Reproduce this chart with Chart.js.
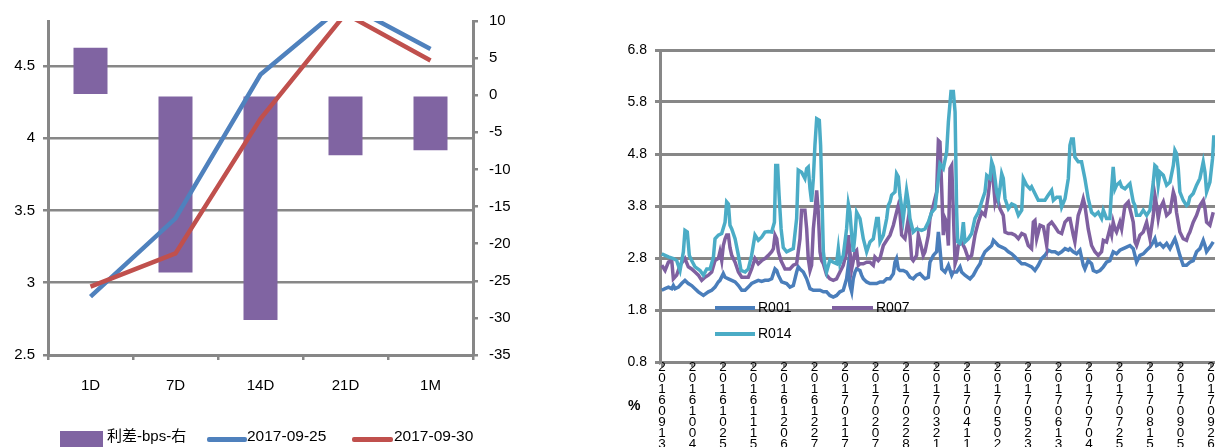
<!DOCTYPE html>
<html>
<head>
<meta charset="utf-8">
<script src="https://cdn.jsdelivr.net/npm/chart.js@4.4.1/dist/chart.umd.min.js"></script>
<style>
  body { margin: 0; width: 1215px; height: 447px; overflow: hidden; background: #fff; position: relative;
         font-family: "Liberation Sans", "Noto Sans CJK SC", sans-serif; color: #000; }
  canvas { position: absolute; top: 0; }
  #curveChart { left: 0; }
  #repoChart { left: 600px; }
  .sw { position: absolute; }
  .lg { position: absolute; white-space: nowrap; }
</style>
</head>
<body>
<canvas id="curveChart" width="600" height="447"></canvas>
<canvas id="repoChart" width="615" height="447"></canvas>

<!-- left legend -->
<div class="sw" style="left:60px;top:431px;width:43px;height:20px;background:#8064a2"></div>
<div class="lg" style="left:107px;top:427px;font-size:15px;line-height:18px">利差-bps-右</div>
<div class="sw" style="left:207px;top:437px;width:40px;height:5px;background:#4f81bd;border-radius:2px"></div>
<div class="lg" style="left:247px;top:427px;font-size:15.5px;line-height:18px">2017-09-25</div>
<div class="sw" style="left:352px;top:437px;width:41px;height:5px;background:#c0504d;border-radius:2px"></div>
<div class="lg" style="left:394px;top:427px;font-size:15.5px;line-height:18px">2017-09-30</div>

<!-- right legend -->
<div class="sw" style="left:715px;top:306px;width:40px;height:4px;background:#4a7ebb"></div>
<div class="lg" style="left:758px;top:299px;font-size:14px;line-height:16px">R001</div>
<div class="sw" style="left:832px;top:306px;width:41px;height:4px;background:#7f60a0"></div>
<div class="lg" style="left:876px;top:299px;font-size:14px;line-height:16px">R007</div>
<div class="sw" style="left:715px;top:332px;width:40px;height:4px;background:#4bacc6"></div>
<div class="lg" style="left:758px;top:325px;font-size:14px;line-height:16px">R014</div>
<div class="lg" style="left:628px;top:397px;font-size:14px;line-height:16px;font-weight:bold">%</div>

<script>
// ---- left chart: curve on two dates + spread (bps, right axis)
const tenors = ["1D", "7D", "14D", "21D", "1M"];
const rate0925 = [2.904, 3.445, 4.44, 4.93, 4.617];
const rate0930 = [2.973, 3.203, 4.134, 4.86, 4.537];
const spreadBps = [6.4, -23.9, -30.3, -8.1, -7.4];
const curveTicks = [2.5, 3, 3.5, 4, 4.5];

// ---- right chart: repo rates, x = days since 2016-09-13
const dateTicks = ["20160913", "20161004", "20161025", "20161115", "20161206", "20161227",
  "20170117", "20170207", "20170228", "20170321", "20170411", "20170502", "20170523",
  "20170613", "20170704", "20170725", "20170815", "20170905", "20170926"];
const daysPerTick = 21;
const rateTicks = [0.8, 1.8, 2.8, 3.8, 4.8, 5.8, 6.8];

const r001Day = [-0.2,2.1,4.4,6.7,7.8,9.0,11.3,13.5,15.8,18.1,20.4,22.7,25.0,28.5,31.9,34.2,36.5,38.8,39.9,42.2,43.4,45.7,48.0,50.3,52.6,54.9,57.2,59.4,61.7,64.0,66.3,68.6,70.9,73.2,75.5,77.8,79.0,80.1,82.4,85.8,
  88.1,90.4,92.7,93.8,95.0,97.3,99.6,101.9,104.2,106.5,108.8,111.1,113.3,115.6,117.9,120.2,122.5,124.8,127.1,128.3,129.4,130.6,131.7,132.9,134.0,136.3,137.4,138.6,140.9,143.2,145.5,147.8,150.1,152.4,154.7,157.0,159.3,160.4,161.5,162.7,163.8,166.1,168.4,170.7,173.0,175.3,177.6,179.9,
  181.1,183.4,184.5,186.8,189.1,190.3,191.4,192.6,194.9,197.2,199.5,200.6,202.9,205.2,206.3,208.6,212.1,214.4,216.7,219.0,220.1,222.4,224.7,227.0,228.2,229.3,231.6,233.9,236.2,238.5,240.8,243.1,245.4,247.7,249.9,252.2,254.5,256.8,259.1,261.4,263.7,266.0,268.3,270.6,272.9,275.2,277.5,279.8,
  280.9,283.2,285.5,287.8,290.1,291.2,293.5,295.8,297.0,299.3,301.6,303.9,306.1,308.4,310.7,313.0,315.3,317.6,319.9,322.2,324.5,326.8,329.1,331.4,333.7,336.0,338.3,339.4,340.6,342.9,345.2,347.5,349.8,352.1,353.2,354.3,356.6,358.9,361.2,363.5,365.8,368.1,370.4,372.7,373.9,375.0,377.3,379.6];
const r001 = [2.18,2.21,2.24,2.21,2.27,2.21,2.24,2.31,2.37,2.31,2.27,2.21,2.15,2.08,2.15,2.18,2.24,2.34,2.37,2.50,2.43,2.40,2.37,2.34,2.27,2.18,2.18,2.24,2.31,2.34,2.37,2.35,2.37,2.37,2.40,2.59,2.56,2.47,2.34,2.31,
  2.24,2.27,2.53,2.63,2.59,2.53,2.40,2.21,2.18,2.18,2.18,2.15,2.15,2.08,2.05,2.08,2.15,2.18,2.40,2.66,2.27,2.15,2.40,2.53,2.59,2.56,2.47,2.40,2.34,2.31,2.31,2.31,2.34,2.34,2.40,2.40,2.50,2.72,2.79,2.59,2.56,2.56,2.53,2.43,2.40,2.47,2.50,2.43,
  2.40,2.43,2.72,2.85,2.92,3.30,2.98,2.59,2.53,2.66,2.47,2.53,2.53,2.63,2.53,2.47,2.40,2.47,2.59,2.69,2.79,2.92,2.98,3.04,3.14,3.11,3.04,3.01,2.98,2.92,2.88,2.82,2.75,2.69,2.69,2.66,2.63,2.56,2.66,2.79,2.85,2.95,2.92,2.92,2.88,2.92,2.98,2.95,
  2.98,2.92,2.88,2.95,2.66,2.59,2.75,2.69,2.56,2.53,2.56,2.63,2.72,2.75,2.92,2.88,2.95,2.98,3.01,3.04,2.98,2.72,2.85,2.88,2.95,3.01,3.11,3.17,3.04,3.08,3.01,3.08,2.98,3.11,3.17,3.08,2.85,2.66,2.66,2.72,2.75,2.92,2.98,3.14,3.04,2.92,3.01,3.11];

const r007Day = [-0.2,2.1,4.4,6.7,7.8,10.1,12.4,15.8,18.1,20.4,22.7,25.0,27.3,29.6,31.9,34.2,36.5,38.8,39.9,41.1,42.2,43.4,44.5,45.7,46.8,48.0,50.3,52.6,54.9,57.2,59.4,61.7,64.0,66.3,68.6,70.9,73.2,75.5,76.7,77.8,79.0,80.1,81.9,84.7,
  88.1,90.4,92.7,95.0,96.1,98.4,99.6,100.7,101.9,103.0,104.2,105.3,106.5,107.6,108.8,109.9,111.1,113.4,115.6,117.9,120.2,122.5,124.8,127.1,128.3,129.4,130.6,131.7,132.9,134.0,135.2,136.3,138.6,140.9,143.2,145.5,146.6,148.9,150.1,152.4,154.7,157.0,159.3,161.5,162.7,163.8,165.0,167.3,169.6,170.7,171.9,173.0,175.3,176.5,178.8,179.9,
  181.1,183.4,184.5,186.8,189.1,190.3,191.4,192.6,193.7,194.9,196.0,197.2,198.3,199.5,200.6,201.8,202.9,204.0,206.3,208.6,210.9,213.2,215.5,217.8,220.1,222.4,223.6,224.7,225.9,227.0,228.2,229.3,230.4,231.6,232.7,235.0,236.2,238.5,240.8,243.1,245.4,247.7,249.9,252.2,254.5,255.7,256.8,258.0,260.3,262.6,263.7,264.9,266.0,268.3,270.6,272.9,275.2,277.5,279.8,
  280.9,283.2,284.3,286.6,288.9,290.1,291.2,293.5,295.8,298.1,300.4,302.7,303.9,306.1,308.4,309.6,310.7,311.9,313.0,315.3,316.5,318.8,321.1,322.2,324.5,325.7,326.8,329.1,331.4,333.7,336.0,338.3,339.4,340.6,341.7,342.9,345.2,347.5,349.8,352.1,353.2,354.3,356.6,358.9,361.2,362.4,363.5,365.8,368.1,370.4,372.7,373.9,375.0,377.3,379.6];
const r007 = [2.66,2.56,2.72,2.75,2.40,2.47,2.66,2.79,2.63,2.59,2.53,2.47,2.37,2.43,2.47,2.53,2.75,2.79,2.92,2.75,3.04,3.17,3.24,3.24,3.00,2.85,2.72,2.53,2.43,2.43,2.43,2.59,2.79,2.69,2.75,2.79,2.85,2.92,2.98,3.24,3.17,2.92,2.75,2.59,
  2.59,2.66,2.69,3.17,3.72,3.72,3.36,2.79,2.56,2.66,3.36,3.68,4.10,3.68,2.92,2.75,2.69,2.47,2.40,2.37,2.40,2.53,2.66,2.92,3.24,2.92,2.59,2.75,2.92,2.95,2.66,2.69,2.69,2.72,2.72,2.66,2.82,2.75,2.79,3.04,3.14,3.24,3.43,3.68,3.81,3.68,3.24,3.17,3.56,3.24,2.79,2.75,2.85,3.24,2.98,2.85,
  2.92,3.24,3.56,3.81,4.07,5.06,5.03,4.13,3.24,3.56,3.49,3.04,4.52,4.58,3.68,2.69,2.79,3.04,3.11,2.98,2.79,2.85,3.24,3.49,3.68,3.62,3.81,4.01,4.33,4.39,4.26,3.88,4.01,3.88,3.75,3.62,3.30,3.27,3.27,3.24,3.17,3.27,3.24,3.04,2.98,3.49,3.52,3.17,3.43,3.40,3.24,3.04,3.43,3.49,3.40,3.30,3.27,3.49,3.56,
  3.56,3.24,3.11,3.62,3.81,3.94,3.81,3.36,3.04,2.92,2.85,2.92,3.14,3.11,3.36,3.24,3.49,3.36,3.30,3.49,3.36,3.81,3.88,3.75,3.49,3.11,3.04,3.24,3.30,3.49,3.17,3.62,4.01,3.81,3.56,3.75,3.88,3.62,3.68,4.07,3.97,3.68,3.30,3.17,3.14,3.24,3.30,3.49,3.62,3.81,3.91,3.75,3.49,3.43,3.68];

const r014Day = [-0.2,4.4,7.8,10.1,12.4,14.7,15.8,17.4,18.8,20.4,22.7,26.2,28.5,30.8,33.1,35.4,36.5,38.8,41.1,43.4,44.5,45.7,46.8,48.0,50.3,52.6,54.4,57.2,59.4,61.7,64.0,66.3,68.6,70.9,73.2,75.5,77.4,78.3,79.6,80.6,82.0,83.5,85.8,
  88.1,90.4,92.7,93.8,96.1,98.4,99.6,100.7,101.9,103.0,104.2,105.3,106.5,108.3,109.2,110.4,111.1,112.2,113.3,115.6,117.9,120.2,121.4,122.5,124.8,127.1,128.3,129.4,130.6,131.7,132.9,134.0,136.3,138.6,140.9,143.2,145.5,147.8,148.9,150.1,152.4,154.7,155.8,157.0,158.1,160.4,161.5,162.7,163.8,166.1,168.4,169.6,170.7,173.0,175.3,178.8,
  181.1,183.4,185.7,188.0,190.3,191.4,193.7,196.0,197.2,199.0,200.6,201.8,202.9,203.6,205.2,206.3,207.5,208.6,210.9,213.2,215.5,217.8,220.1,222.4,223.6,225.9,227.0,228.2,229.3,230.4,231.6,232.7,233.9,235.0,236.2,238.5,240.8,243.1,245.4,247.7,248.8,251.1,253.4,254.5,256.8,259.1,261.4,263.7,266.0,268.3,269.5,271.8,274.1,275.2,277.5,279.8,
  280.9,282.0,283.2,284.3,286.6,288.9,291.2,293.5,295.8,298.1,300.4,302.7,303.9,306.1,308.4,309.6,310.7,311.9,313.0,315.3,316.5,318.8,321.1,322.2,324.5,325.7,326.8,329.1,331.4,333.7,336.0,338.3,339.4,340.6,341.7,342.9,345.2,347.5,349.8,352.1,353.2,354.3,355.5,356.6,358.9,361.2,362.4,363.5,365.8,368.1,370.4,372.7,373.9,375.0,377.3,379.1,380.0];
const r014 = [2.88,2.82,2.79,2.75,2.56,2.92,3.33,3.30,2.85,2.75,2.63,2.56,2.47,2.59,2.59,2.82,3.17,3.24,3.27,3.49,3.88,3.84,3.43,3.36,3.17,2.85,2.56,2.53,2.59,2.85,3.24,3.14,3.20,3.30,3.31,3.30,3.49,4.58,4.58,4.01,3.36,3.00,2.92,
  2.95,2.98,3.56,4.49,4.45,4.33,4.52,4.55,4.13,3.88,4.33,4.97,5.48,5.45,4.97,3.68,2.92,2.66,2.53,2.76,2.72,2.69,2.98,2.69,2.85,3.36,3.84,3.68,3.24,2.92,3.24,3.68,3.56,3.17,2.92,3.11,3.17,3.56,3.56,3.11,3.24,3.56,3.81,3.88,4.01,4.07,4.42,4.36,4.01,3.56,4.10,3.88,3.56,3.30,3.36,3.33,
  3.36,3.49,3.68,3.75,4.33,4.61,4.52,4.84,5.42,6.00,6.00,5.61,3.68,3.11,3.08,3.17,3.49,3.11,3.17,3.27,3.56,3.68,3.88,4.07,4.39,4.33,4.65,4.55,4.33,4.07,3.94,4.13,4.42,4.33,3.94,3.75,3.84,3.81,3.62,3.72,4.33,4.20,4.13,4.17,4.04,3.91,3.91,3.91,4.01,4.10,3.91,3.97,3.97,3.78,3.94,4.33,
  4.97,5.09,5.09,4.74,4.65,4.65,4.33,3.94,3.68,3.62,3.68,3.56,3.72,3.56,3.56,4.13,4.55,4.13,4.20,4.26,4.17,4.13,4.20,4.23,3.88,3.81,3.62,3.62,3.72,3.62,3.72,4.26,4.58,4.55,4.20,4.45,4.39,4.20,4.26,4.58,4.87,4.81,4.52,4.07,3.91,3.81,3.84,3.97,4.04,4.20,4.33,4.65,4.45,4.07,4.26,4.71,5.16];

const gray = "#878787";
Chart.defaults.font.family = '"Liberation Sans", sans-serif';
Chart.defaults.color = "#000";

function toPoints(days, vals) {
  return days.map(function (d, i) { return { x: d, y: vals[i] }; });
}

new Chart(document.getElementById("curveChart"), {
  type: "bar",
  data: {
    labels: tenors,
    datasets: [
      { type: "line", label: "2017-09-30", data: rate0930, yAxisID: "y", order: 0,
        borderColor: "#c0504d", borderWidth: 4.5, pointRadius: 0, tension: 0 },
      { type: "line", label: "2017-09-25", data: rate0925, yAxisID: "y", order: 1,
        borderColor: "#4f81bd", borderWidth: 4.5, pointRadius: 0, tension: 0 },
      { type: "bar", label: "利差-bps-右", data: spreadBps, yAxisID: "y2", order: 2,
        backgroundColor: "#8064a2", barPercentage: 0.4, categoryPercentage: 1 },
    ],
  },
  options: {
    responsive: false,
    animation: false,
    layout: { padding: { top: 21, left: 0, right: 0, bottom: 0 } },
    plugins: { legend: { display: false }, tooltip: { enabled: false } },
    scales: {
      x: {
        offset: true,
        grid: { offset: true, drawOnChartArea: false, tickLength: 5, color: gray, lineWidth: 2.5 },
        border: { color: gray, width: 3 },
        ticks: { font: { size: 15 }, padding: 17 },
        afterFit: function (s) { s.height = 92; },
      },
      y: {
        position: "left", min: 2.5, max: 4.81,
        afterBuildTicks: function (s) { s.ticks = curveTicks.map(function (v) { return { value: v }; }); },
        grid: { color: gray, lineWidth: 2.5, tickLength: 5 },
        border: { color: gray, width: 3 },
        ticks: { font: { size: 15 }, padding: 8, callback: function (v) { return String(v); } },
        afterFit: function (s) { s.width = 48; },
      },
      y2: {
        position: "right", min: -35, max: 10,
        ticks: { stepSize: 5, font: { size: 15 }, padding: 11 },
        grid: { drawOnChartArea: false, color: gray, lineWidth: 2.5, tickLength: 5 },
        border: { color: gray, width: 3 },
        afterFit: function (s) { s.width = 127; },
      },
    },
  },
});

new Chart(document.getElementById("repoChart"), {
  type: "line",
  data: {
    datasets: [
      { label: "R001", data: toPoints(r001Day, r001), order: 2,
        borderColor: "#4a7ebb", borderWidth: 3.5, pointRadius: 0, tension: 0 },
      { label: "R007", data: toPoints(r007Day, r007), order: 1,
        borderColor: "#7f60a0", borderWidth: 3.5, pointRadius: 0, tension: 0 },
      { label: "R014", data: toPoints(r014Day, r014), order: 0,
        borderColor: "#4bacc6", borderWidth: 3.5, pointRadius: 0, tension: 0 },
    ],
  },
  options: {
    responsive: false,
    animation: false,
    layout: { padding: { top: 50, left: 0, right: 0, bottom: 0 } },
    plugins: { legend: { display: false }, tooltip: { enabled: false } },
    scales: {
      x: {
        type: "linear", min: -1.4, max: 380.8,
        afterBuildTicks: function (s) {
          s.ticks = dateTicks.map(function (t, i) { return { value: i * daysPerTick }; });
        },
        ticks: {
          autoSkip: false, maxRotation: 0, minRotation: 0, padding: -5.5,
          font: { size: 13.5, lineHeight: 0.82 },
          callback: function (v, i) { return dateTicks[i].split(""); },
        },
        grid: { drawOnChartArea: false, tickLength: 5, color: gray, lineWidth: 2.5 },
        border: { color: gray, width: 3 },
        afterFit: function (s) { s.height = 85; },
      },
      y: {
        min: 0.8, max: 6.8,
        afterBuildTicks: function (s) { s.ticks = rateTicks.map(function (v) { return { value: v }; }); },
        ticks: { font: { size: 14 }, padding: 8, callback: function (v) { return v.toFixed(1); } },
        grid: { color: gray, lineWidth: 3, tickLength: 5 },
        border: { color: gray, width: 3 },
        afterFit: function (s) { s.width = 60; },
      },
    },
  },
});
</script>
</body>
</html>
